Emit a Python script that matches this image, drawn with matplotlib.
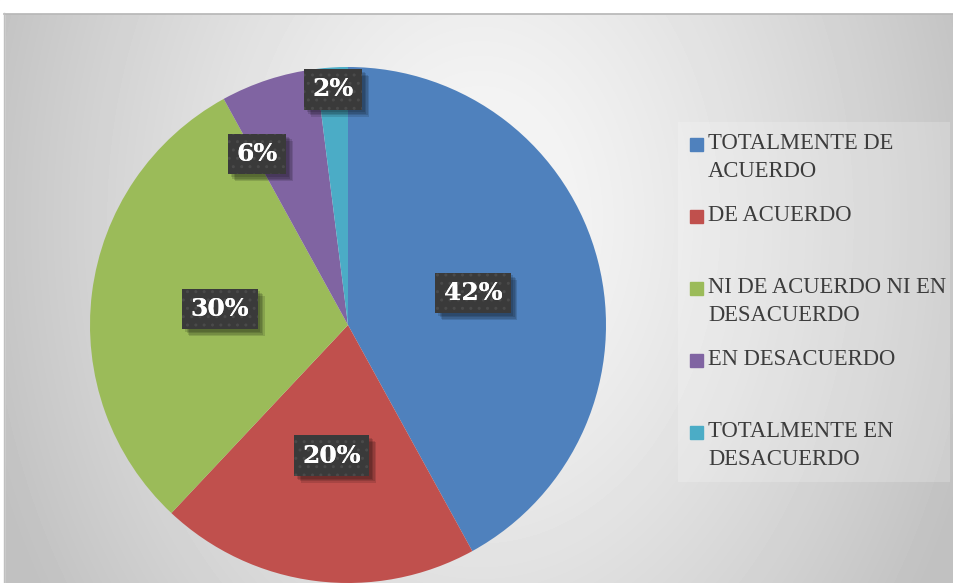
import matplotlib.pyplot as plt
import matplotlib.patheffects as pe
from matplotlib.patches import Rectangle
import numpy as np

labels = ["TOTALMENTE DE\nACUERDO", "DE ACUERDO", "NI DE ACUERDO NI EN\nDESACUERDO",
          "EN DESACUERDO", "TOTALMENTE EN\nDESACUERDO"]
values = [42, 20, 30, 6, 2]
colors = ["#4f81bd", "#c0504d", "#9bbb59", "#8064a2", "#4bacc6"]
# label radius (fraction of pie radius) and angle shift (degrees) per slice
lab_r = [0.50, 0.51, 0.50, 0.75, 0.915]
lab_shift = [0, 0, 0, 10, 0]

W, H = 954, 583
fig = plt.figure(figsize=(W / 100, H / 100), dpi=100)

# background: radial gray gradient inside chart area
bg = fig.add_axes([0, 0, 1, 1])
bg.set_xlim(0, W)
bg.set_ylim(H, 0)
bg.axis("off")
yy, xx = np.mgrid[0:H, 0:W]
d = np.sqrt(((xx - 480) / 520.0) ** 2 + ((yy - 220) / 700.0) ** 2)
shade = 0.975 - 0.22 * np.clip(d, 0, 1) ** 1.3
bg.imshow(shade, cmap="gray", vmin=0, vmax=1, extent=[0, W, H, 0], zorder=0)
bg.add_patch(Rectangle((0, 0), W, 13, color="white", zorder=1))
bg.add_patch(Rectangle((0, 0), 4, H, color="white", zorder=1))
bg.plot([4, W], [13.5, 13.5], color="#b5b5b5", lw=1.2, zorder=2)
bg.plot([4.5, 4.5], [13, H], color="#c0c0c0", lw=1, zorder=2)
bg.add_patch(Rectangle((678, 122), 272, 360, color="white", alpha=0.2, lw=0, zorder=1))

# legend drawn by hand so the entries follow the original slot layout
for i, (lab, c) in enumerate(zip(labels, colors)):
    ytop = 133 + 72 * i
    bg.add_patch(Rectangle((690, ytop + 5), 13, 13, color=c, zorder=3))
    bg.text(708, ytop, lab, fontsize=16.3, family="Liberation Serif", color="#3c3c3c",
            va="top", ha="left", linespacing=1.42, zorder=3)

# pie
ax = fig.add_axes([90 / W, 0, 516 / W, 516 / H])
ax.patch.set_alpha(0)
wedges, _ = ax.pie(values, colors=colors, startangle=90, counterclock=False,
                   radius=1, wedgeprops=dict(linewidth=0))
ax.set_xlim(-1, 1)
ax.set_ylim(-1, 1)

shadow = [pe.SimplePatchShadow(offset=(2 + k, -2 - k), alpha=0.13, shadow_rgbFace="black")
          for k in (3, 2, 1, 0)]
txt_kw = dict(ha="center", va="center", fontsize=18, fontweight="bold",
              family="DejaVu Serif", color="white")
for w, v, r, s in zip(wedges, values, lab_r, lab_shift):
    ang = np.deg2rad((w.theta1 + w.theta2) / 2 + s)
    x, y = r * np.cos(ang), r * np.sin(ang)
    t = ax.text(x, y, f"{v}%", **txt_kw,
                bbox=dict(boxstyle="square,pad=0.33", facecolor="#3a3a3a", lw=0))
    t.get_bbox_patch().set_path_effects(shadow + [pe.Normal()])
    # dotted texture on top of the box
    ax.text(x, y, f"{v}%", **txt_kw,
            bbox=dict(boxstyle="square,pad=0.33", facecolor="none",
                      edgecolor="#4a4a4a", hatch="..", lw=0))

fig.savefig("out.png", dpi=100)
